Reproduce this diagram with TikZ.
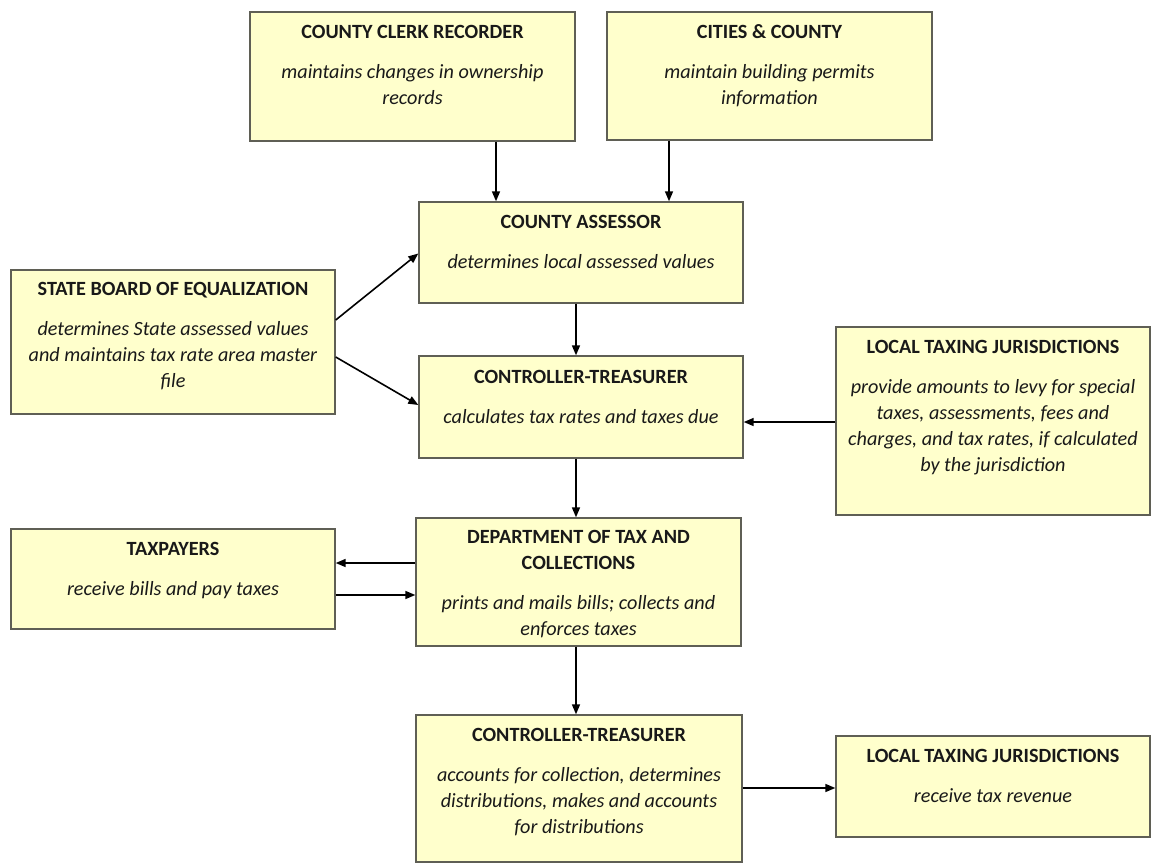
\documentclass[tikz,border=0pt]{standalone}
\usepackage{fontspec}
\setmainfont{Carlito}
\usetikzlibrary{arrows.meta,calc}
\definecolor{boxfill}{RGB}{255,255,204}
\definecolor{boxline}{RGB}{95,95,85}
\definecolor{txt}{RGB}{25,25,25}
\begin{document}
\begin{tikzpicture}[x=1pt,y=-1pt,
  box/.style={draw=boxline, fill=boxfill, line width=1.4pt, inner sep=0pt},
  lbl/.style={anchor=north, align=center, inner sep=0pt, text=txt, font=\fontsize{20.2}{26}\selectfont},
  arr/.style={line width=1.6pt, draw=black, -{Triangle[length=10pt,width=8pt]}}]
\useasboundingbox (0,0) rectangle (1152,867);
\fill[white] (0,0) rectangle (1152,867);

% boxes
\node[box, minimum width=325pt, minimum height=129pt] (clerk) at (412.5,76.5) {};
\node[box, minimum width=325pt, minimum height=128pt] (cities) at (769.5,76) {};
\node[box, minimum width=324pt, minimum height=101pt] (assessor) at (581,252.5) {};
\node[box, minimum width=324pt, minimum height=144pt] (state) at (173,342) {};
\node[box, minimum width=324pt, minimum height=102pt] (ct1) at (581,407) {};
\node[box, minimum width=314pt, minimum height=188pt] (ltj1) at (993,421) {};
\node[box, minimum width=324pt, minimum height=100pt] (taxp) at (173,579) {};
\node[box, minimum width=325pt, minimum height=128pt] (dept) at (578.5,582) {};
\node[box, minimum width=326pt, minimum height=147pt] (ct2) at (579,788.5) {};
\node[box, minimum width=314pt, minimum height=101pt] (ltj2) at (993,786.5) {};

% labels
\node[lbl] (clerkT) at ([yshift=-13.5pt]clerk.north) {\textbf{COUNTY CLERK RECORDER}\\[14pt]\textit{maintains changes in ownership}\\\textit{records}};
\node[lbl] (citiesT) at ([yshift=-13.5pt]cities.north) {\textbf{CITIES \& COUNTY}\\[14pt]\textit{maintain building permits}\\\textit{information}};
\node[lbl] (assessorT) at ([yshift=-13.5pt]assessor.north) {\textbf{COUNTY ASSESSOR}\\[14pt]\textit{determines local assessed values}};
\node[lbl] (stateT) at ([yshift=-12.5pt]state.north) {\textbf{STATE BOARD OF EQUALIZATION}\\[14pt]\textit{determines State assessed values}\\\textit{and maintains tax rate area master}\\\textit{file}};
\node[lbl] (ct1T) at ([yshift=-14.5pt]ct1.north) {\textbf{CONTROLLER-TREASURER}\\[14pt]\textit{calculates tax rates and taxes due}};
\node[lbl] (ltj1T) at ([yshift=-13.5pt]ltj1.north) {\textbf{LOCAL TAXING JURISDICTIONS}\\[14pt]\textit{provide amounts to levy for special}\\\textit{taxes, assessments, fees and}\\\textit{charges, and tax rates, if calculated}\\\textit{by the jurisdiction}};
\node[lbl] (taxpT) at ([yshift=-13.5pt]taxp.north) {\textbf{TAXPAYERS}\\[14pt]\textit{receive bills and pay taxes}};
\node[lbl] (deptT) at ([yshift=-12.5pt]dept.north) {\textbf{DEPARTMENT OF TAX AND}\\\textbf{COLLECTIONS}\\[14pt]\textit{prints and mails bills; collects and}\\\textit{enforces taxes}};
\node[lbl] (ct2T) at ([yshift=-13.5pt]ct2.north) {\textbf{CONTROLLER-TREASURER}\\[14pt]\textit{accounts for collection, determines}\\\textit{distributions, makes and accounts}\\\textit{for distributions}};
\node[lbl] (ltj2T) at ([yshift=-14pt]ltj2.north) {\textbf{LOCAL TAXING JURISDICTIONS}\\[14pt]\textit{receive tax revenue}};

% helper coordinates
\coordinate (xa) at (496,0);
\coordinate (xb) at (669,0);
\coordinate (xc) at (576,0);
\coordinate (ya) at (0,422);
\coordinate (yb) at (0,563);
\coordinate (yc) at (0,595);
\coordinate (yd) at (0,788);

% connectors
\draw[arr] (clerk.south -| xa) -- (assessor.north -| xa);
\draw[arr] (cities.south -| xb) -- (assessor.north -| xb);
\draw[arr] (assessor.south -| xc) -- (ct1.north -| xc);
\draw[arr] ([yshift=22pt]state.east) -- ([yshift=-1pt]assessor.west);
\draw[arr] ([yshift=-15pt]state.east) -- ([yshift=2pt]ct1.west);
\draw[arr] (ltj1.west |- ya) -- (ct1.east |- ya);
\draw[arr] (ct1.south -| xc) -- (dept.north -| xc);
\draw[arr] (dept.west |- yb) -- (taxp.east |- yb);
\draw[arr] (taxp.east |- yc) -- (dept.west |- yc);
\draw[arr] (dept.south -| xc) -- (ct2.north -| xc);
\draw[arr] (ct2.east |- yd) -- (ltj2.west |- yd);
\end{tikzpicture}
\end{document}
